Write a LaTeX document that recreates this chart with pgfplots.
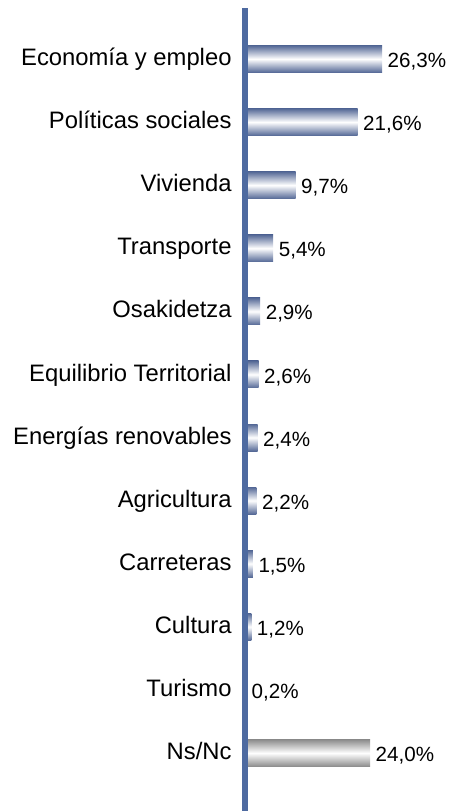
\documentclass[border=0pt]{standalone}
\usepackage{fontspec}
\setmainfont{Liberation Sans}
\usepackage{pgfplots}
\pgfplotsset{compat=1.18}
\definecolor{barblue}{RGB}{84,104,150}
\definecolor{axisblue}{RGB}{78,106,160}
\definecolor{bargray}{RGB}{140,140,140}
\pgfplotsset{
  bluebar/.style={draw=none, top color=barblue, bottom color=barblue, middle color=white},
  graybar/.style={draw=none, top color=bargray, bottom color=bargray, middle color=white},
}
\begin{document}
\begin{tikzpicture}
\useasboundingbox (0pt,0pt) rectangle (450pt,811pt);
\begin{axis}[
    at={(245pt,0pt)}, anchor=south west,
    scale only axis,
    width=205pt, height=803pt,
    xmin=0, xmax=39.35,
    ymin=-0.808, ymax=11.919,
    y dir=reverse,
    xbar, bar width=27pt, bar shift=0pt,
    hide x axis,
    axis y line*=left,
    y axis line style={line width=6pt, color=axisblue, -},
    axis on top,
    ytick={0,...,11},
    yticklabels={Economía y empleo, Políticas sociales, Vivienda, Transporte,
      Osakidetza, Equilibrio Territorial, Energías renovables, Agricultura,
      Carreteras, Cultura, Turismo, Ns/Nc},
    ytick style={draw=none},
    yticklabel style={font=\fontsize{23.8}{28}\selectfont, inner sep=0pt,
      anchor=east, xshift=-9pt, yshift=-4pt, text height=0.72em, text depth=0.21em},
    nodes near coords={\pgfmathprintnumber[fixed,fixed zerofill,precision=1,use comma,assume math mode=true]{\pgfplotspointmeta}\%},
    nodes near coords align={horizontal},
    every node near coord/.append style={font=\fontsize{20.6}{24}\selectfont,
      black, inner sep=0pt, anchor=west, xshift=5.5pt, yshift=-5pt, text height=0.72em, text depth=0pt},
    point meta=x,
]
\addplot[bluebar] coordinates {(26.3,0)};
\addplot[bluebar] coordinates {(21.6,1)};
\addplot[bluebar] coordinates {(9.7,2)};
\addplot[bluebar] coordinates {(5.4,3)};
\addplot[bluebar] coordinates {(2.9,4)};
\addplot[bluebar] coordinates {(2.6,5)};
\addplot[bluebar] coordinates {(2.4,6)};
\addplot[bluebar] coordinates {(2.2,7)};
\addplot[bluebar] coordinates {(1.5,8)};
\addplot[bluebar] coordinates {(1.2,9)};
\addplot[bluebar] coordinates {(0.2,10)};
\addplot[graybar] coordinates {(24.0,11)};
\end{axis}
\end{tikzpicture}
\end{document}
